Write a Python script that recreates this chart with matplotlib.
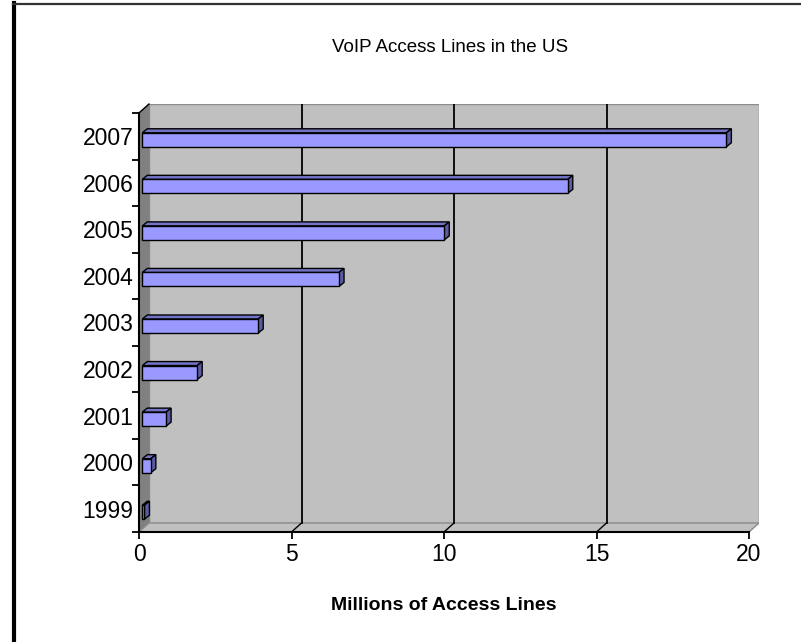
import matplotlib
matplotlib.use("Agg")
import matplotlib.pyplot as plt
from matplotlib.patches import Polygon
from matplotlib.lines import Line2D
import numpy as np

years = ["1999", "2000", "2001", "2002", "2003", "2004", "2005", "2006", "2007"]
lines_millions = [0.07, 0.28, 0.78, 1.8, 3.8, 6.45, 9.9, 13.95, 19.15]
x_ticks = [0, 5, 10, 15, 20]

plt.rcParams["font.family"] = ["Liberation Sans", "DejaVu Sans"]

W, H = 801, 642
fig = plt.figure(figsize=(W / 100, H / 100), dpi=100)
fig.patch.set_facecolor("white")

# plot area in pixels: front axes origin at (139, 532), back wall reaches (759, 104)
left_px, right_px, bottom_px, top_px = 139, 759, 532, 104
ax = fig.add_axes([left_px / W, 1 - bottom_px / H,
                   (right_px - left_px) / W, (bottom_px - top_px) / H])

DX = 10 / 30.5   # depth offset of the walls, x units
DY = 9 / 46.57   # depth offset of the walls, category units
xmax = 20
ax.set_xlim(0, xmax + DX)
ax.set_ylim(-0.5, 8.5 + DY)
ax.set_facecolor("none")
for s in ax.spines.values():
    s.set_visible(False)

wall = "#C0C0C0"
# back wall
ax.add_patch(Polygon([(DX, -0.5 + DY), (xmax + DX, -0.5 + DY), (xmax + DX, 8.5 + DY), (DX, 8.5 + DY)],
                     closed=True, facecolor=wall, edgecolor="#8C8C8C", lw=1, zorder=1))
# side wall
ax.add_patch(Polygon([(0, -0.5), (0, 8.5), (DX, 8.5 + DY), (DX, -0.5 + DY)],
                     closed=True, facecolor="#808080", edgecolor="#808080", lw=0.8, zorder=1))
# floor
ax.add_patch(Polygon([(0, -0.5), (xmax, -0.5), (xmax + DX, -0.5 + DY), (DX, -0.5 + DY)],
                     closed=True, facecolor=wall, edgecolor="#8C8C8C", lw=1, zorder=1))

# gridlines on the back wall and their traces across the floor
for t in x_ticks[1:-1]:
    ax.plot([t + DX, t + DX], [-0.5 + DY, 8.5 + DY], color="black", lw=1.3, zorder=2)
    ax.plot([t, t + DX], [-0.5, -0.5 + DY], color="black", lw=1.0, zorder=2)

# front axis lines
ax.plot([0, 0], [-0.5, 8.5], color="black", lw=1.5, zorder=3, clip_on=False)
ax.plot([0, xmax], [-0.5, -0.5], color="black", lw=1.5, zorder=3, clip_on=False)
ax.plot([0, DX], [8.5, 8.5 + DY], color="black", lw=1.0, zorder=3, clip_on=False)

# 3D bars
x0 = 3.3 / 30.5          # front face starts slightly inside the depth
bdx = 5 / 30.5           # bar depth, x units
bdy = 4 / 46.57          # bar depth, category units
half = 7 / 46.57
shift = 3.5 / 46.57
front_c, top_c, side_c = "#9999FF", "#7373C6", "#5B5BA3"
for i, v in enumerate(lines_millions):
    y0 = i - shift - half
    y1 = i - shift + half
    x1 = x0 + v
    ax.add_patch(Polygon([(x0, y1), (x1, y1), (x1 + bdx, y1 + bdy), (x0 + bdx, y1 + bdy)],
                         closed=True, facecolor=top_c, edgecolor="black", lw=1, zorder=4))
    ax.add_patch(Polygon([(x1, y0), (x1 + bdx, y0 + bdy), (x1 + bdx, y1 + bdy), (x1, y1)],
                         closed=True, facecolor=side_c, edgecolor="black", lw=1, zorder=4))
    ax.add_patch(Polygon([(x0, y0), (x1, y0), (x1, y1), (x0, y1)],
                         closed=True, facecolor=front_c, edgecolor="black", lw=1, zorder=5))

# ticks and labels
ax.set_xticks(x_ticks, labels=[str(t) for t in x_ticks])
ax.set_yticks(range(len(years)), labels=years)
ax.set_yticks(np.arange(-0.5, 9.0, 1.0), minor=True)
ax.tick_params(axis="x", which="major", length=5, width=1.3, pad=3, labelsize=16.5)
ax.tick_params(axis="y", which="major", length=0, pad=4, labelsize=16.5)
ax.tick_params(axis="y", which="minor", length=5, width=1.3)
ax.tick_params(axis="x", which="minor", length=0)

ax.set_xlabel("Millions of Access Lines", fontsize=14, fontweight="bold", va="center")
ax.xaxis.set_label_coords((444 - left_px) / (right_px - left_px), (bottom_px - 606) / (bottom_px - top_px))

fig.text(450 / W, 1 - 47 / H, "VoIP Access Lines in the US", ha="center", va="center", fontsize=13.5)

# chart border
fig.add_artist(Line2D([14 / W, 14 / W], [0, 1 - 3 / H], color="black", lw=3, transform=fig.transFigure))
fig.add_artist(Line2D([13 / W, 1], [1 - 3.5 / H, 1 - 3.5 / H], color="#333333", lw=1.6, transform=fig.transFigure))

fig.savefig("out.png", dpi=100)
